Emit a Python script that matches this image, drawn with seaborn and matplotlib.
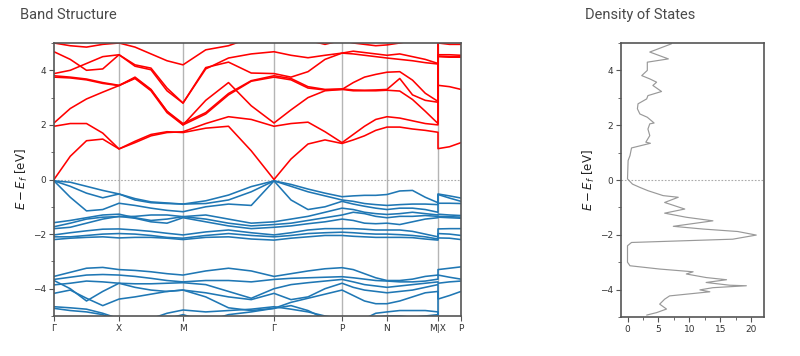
import numpy as np
import pandas as pd
import matplotlib
matplotlib.use("Agg")
import matplotlib.pyplot as plt
import seaborn as sns
from matplotlib.ticker import MultipleLocator

# ---------------- data ----------------
kpath_labels = ["Γ", "X", "M", "Γ", "P", "N", "M|X", "P"]
kpath_pos = [0.0, 0.65, 1.29, 2.20, 2.88, 3.33, 3.84, 4.07]

# conduction bands: Γ-X(5) X-M(4) M-Γ(4) Γ-P(4) P-N(4) N-M(4) | X-P(3)
cb1 = [0, 0.85, 1.42, 1.48, 1.12, 1.4, 1.65, 1.75, 1.72, 1.88, 1.95, 1.05, 0,
       0.75, 1.3, 1.45, 1.32, 1.45, 1.6, 1.8, 1.92, 1.92, 1.85, 1.8, 1.73, 1.13, 1.2, 1.35]
cb2 = [1.95, 2.05, 2.05, 1.7, 1.12, 1.35, 1.6, 1.72, 1.75, 2.05, 2.3, 2.2, 1.95,
       2.05, 2.1, 1.75, 1.35, 1.65, 1.95, 2.2, 2.3, 2.25, 2.15, 2.05, 2.0, 3.45, 3.4, 3.3]
cb3 = [2.07, 2.6, 2.95, 3.2, 3.44, 3.75, 3.3, 2.5, 2.0, 2.9, 3.55, 2.7, 2.07,
       2.55, 3.0, 3.25, 3.3, 3.55, 3.75, 3.85, 3.93, 3.95, 3.64, 3.16, 2.86, 4.57, 4.57, 4.55]
cb4 = [3.75, 3.72, 3.65, 3.52, 3.44, 3.7, 3.25, 2.45, 2.0, 2.4, 3.1, 3.6, 3.75,
       3.65, 3.35, 3.28, 3.3, 3.25, 3.25, 3.25, 3.27, 3.24, 2.93, 2.5, 2.05, 4.52, 4.5, 4.5]
cb5 = [3.88, 4.0, 4.25, 4.5, 4.57, 4.15, 4.02, 3.25, 2.8, 4.1, 4.3, 3.9, 3.88,
       3.75, 3.95, 4.4, 4.63, 4.6, 4.55, 4.5, 4.45, 4.4, 4.35, 4.28, 4.23, 5.0, 4.95, 4.95]
cb6 = [4.68, 4.4, 4.0, 4.05, 4.57, 4.2, 4.08, 3.35, 2.8, 4.05, 4.45, 4.6, 4.68,
       4.55, 4.46, 4.55, 4.63, 4.7, 4.65, 4.6, 4.55, 4.6, 4.5, 4.4, 4.25, 5.3, 5.3, 5.3]
cb7 = [5.0, 4.9, 4.85, 4.95, 5.0, 4.85, 4.6, 4.35, 4.2, 4.75, 4.9, 5.2, 5.3,
       5.2, 5.1, 4.95, 5.1, 5.0, 4.95, 4.9, 4.93, 5.0, 5.1, 5.2, 5.3, 5.3, 5.3, 5.3]
cb8 = [3.8, 3.75, 3.68, 3.55, 3.45, 3.72, 3.28, 2.5, 2.05, 2.45, 3.15, 3.62, 3.8,
       3.7, 3.4, 3.3, 3.32, 3.28, 3.27, 3.28, 3.3, 3.7, 3.1, 2.9, 2.83, 4.5, 4.48, 4.48]

# valence bands
vb1 = [-0.05, -0.1, -0.25, -0.4, -0.53, -0.75, -0.85, -0.88, -0.9, -0.78, -0.57, -0.26, -0.05,
       -0.18, -0.35, -0.5, -0.63, -0.6, -0.58, -0.58, -0.55, -0.42, -0.4, -0.65, -0.85, -0.53, -0.6, -0.68]
vb2 = [-0.05, -0.25, -0.5, -0.67, -0.53, -0.7, -0.82, -0.86, -0.9, -0.88, -0.75, -0.45, -0.05,
       -0.25, -0.45, -0.6, -0.75, -0.8, -0.88, -0.92, -0.95, -0.92, -0.9, -0.9, -0.92, -0.55, -0.68, -0.8]
vb3 = [-0.05, -0.65, -1.15, -1.1, -0.87, -0.95, -1.05, -1.13, -1.18, -1.0, -0.9, -0.95, -0.05,
       -0.75, -1.1, -1.0, -0.8, -0.9, -0.98, -1.05, -1.1, -1.05, -1.05, -1.1, -1.2, -0.87, -0.87, -0.88]
vb4 = [-1.58, -1.5, -1.4, -1.3, -1.27, -1.4, -1.5, -1.45, -1.36, -1.3, -1.45, -1.6, -1.55,
       -1.45, -1.35, -1.2, -1.05, -1.1, -1.2, -1.25, -1.28, -1.25, -1.2, -1.25, -1.3, -1.27, -1.3, -1.32]
vb5 = [-1.73, -1.6, -1.45, -1.38, -1.36, -1.35, -1.3, -1.3, -1.36, -1.45, -1.6, -1.7, -1.65,
       -1.6, -1.5, -1.4, -1.3, -1.2, -1.25, -1.35, -1.4, -1.35, -1.35, -1.32, -1.35, -1.35, -1.36, -1.38]
vb6 = [-1.8, -1.75, -1.6, -1.45, -1.35, -1.42, -1.55, -1.6, -1.4, -1.55, -1.7, -1.8, -1.75,
       -1.7, -1.62, -1.55, -1.45, -1.5, -1.6, -1.62, -1.6, -1.65, -1.55, -1.45, -1.4, -1.38, -1.4, -1.42]
vb7 = [-2.03, -1.95, -1.88, -1.82, -1.81, -1.85, -1.9, -1.97, -2.03, -1.92, -1.85, -1.95, -2.03,
       -1.95, -1.85, -1.8, -1.8, -1.8, -1.82, -1.85, -1.85, -1.85, -1.9, -2.0, -2.1, -1.81, -1.8, -1.8]
vb8 = [-2.1, -2.1, -2.05, -2.0, -1.98, -2.0, -2.05, -2.12, -2.15, -2.05, -1.98, -2.05, -2.1,
       -2.05, -1.98, -1.95, -1.93, -1.95, -1.98, -2.0, -2.0, -2.02, -2.05, -2.1, -2.18, -1.98, -2.0, -2.05]
vb9 = [-2.2, -2.15, -2.12, -2.1, -2.14, -2.12, -2.12, -2.15, -2.2, -2.12, -2.1, -2.18, -2.22,
       -2.15, -2.1, -2.05, -2.05, -2.08, -2.1, -2.12, -2.12, -2.12, -2.13, -2.18, -2.22, -2.14, -2.15, -2.2]
vb10 = [-3.55, -3.4, -3.25, -3.22, -3.3, -3.33, -3.38, -3.45, -3.5, -3.35, -3.25, -3.35, -3.55,
        -3.45, -3.35, -3.27, -3.23, -3.3, -3.45, -3.6, -3.7, -3.7, -3.65, -3.55, -3.5, -3.3, -3.25, -3.2]
vb11 = [-3.66, -3.58, -3.5, -3.48, -3.5, -3.55, -3.62, -3.7, -3.75, -3.7, -3.7, -3.75, -3.66,
        -3.62, -3.6, -3.58, -3.56, -3.6, -3.65, -3.7, -3.72, -3.75, -3.75, -3.72, -3.65, -3.5, -3.58, -3.65]
vb12 = [-3.86, -3.8, -3.72, -3.75, -3.8, -3.82, -3.82, -3.8, -3.78, -3.85, -4.1, -4.35, -4.0,
        -3.85, -3.78, -3.72, -3.66, -3.75, -3.85, -3.9, -3.95, -3.9, -3.85, -3.8, -3.75, -3.8, -3.75, -3.72]
vb13 = [-3.7, -4.0, -4.45, -4.1, -3.8, -3.95, -4.05, -4.1, -4.05, -4.15, -4.3, -4.4, -4.17,
        -4.4, -4.3, -4.0, -3.8, -3.95, -4.05, -4.1, -4.15, -4.1, -4.05, -3.95, -3.85, -4.38, -4.25, -4.1]
vb14 = [-4.17, -4.05, -4.35, -4.62, -4.38, -4.3, -4.2, -4.1, -4.05, -4.3, -4.7, -4.8, -4.72,
        -4.5, -4.35, -4.2, -4.05, -4.25, -4.45, -4.55, -4.55, -4.45, -4.3, -4.15, -4.1, -5.2, -5.2, -5.2]
vb15 = [-4.66, -4.7, -4.75, -4.9, -5.1, -5.2, -5.1, -4.9, -4.78, -4.85, -4.8, -4.75, -4.66,
        -4.75, -4.85, -5.0, -5.1, -5.2, -5.1, -4.9, -4.85, -4.8, -4.8, -4.8, -4.85, -5.3, -5.3, -5.3]
vb16 = [-4.72, -4.8, -4.85, -4.95, -5.2, -5.3, -5.3, -5.1, -4.95, -5.2, -4.95, -4.85, -4.72,
        -4.62, -4.8, -5.1, -5.3, -5.3, -5.2, -5.05, -5.0, -5.0, -5.05, -5.0, -4.95, -5.3, -5.3, -5.3]

conduction_bands = [cb1, cb2, cb3, cb4, cb5, cb6, cb7, cb8]
valence_bands = [vb1, vb2, vb3, vb4, vb5, vb6, vb7, vb8, vb9, vb10, vb11, vb12, vb13, vb14, vb15, vb16]

# density of states (energy, dos)
dos_energy = [4.97, 4.67, 4.42, 4.3, 4.0, 3.81, 3.69, 3.57, 3.45, 3.23, 3.08, 2.96, 2.78, 2.6,
              2.41, 2.29, 2.08, 2.05, 1.86, 1.62, 1.38, 1.34, 1.17, 0.89, 0.71, 0.04, -0.15,
              -0.27, -0.39, -0.57, -0.63, -0.82, -1.06, -1.21, -1.36, -1.49, -1.69, -1.79,
              -1.88, -2.01, -2.16, -2.28, -2.4, -3.0, -3.13, -3.25, -3.35, -3.43, -3.56, -3.64,
              -3.74, -3.84, -3.86, -3.93, -4.01, -4.08, -4.23, -4.35, -4.53, -4.71, -4.84, -4.93]
dos_value = [7.1, 3.6, 6.6, 3.2, 3.2, 2.3, 3.6, 4.7, 4.1, 5.5, 3.3, 3.1, 1.7, 1.6,
             2.0, 3.2, 4.3, 3.6, 3.3, 3.6, 2.96, 3.7, 0.65, 0.4, 0.1, 0.0, 0.8,
             2.0, 3.3, 5.75, 8.2, 6.0, 9.25, 6.0, 9.5, 13.8, 7.4, 12.2,
             17.8, 20.8, 17.0, 0.65, 0.0, 0.0, 0.4, 5.2, 10.6, 9.5, 12.7, 16.0,
             12.7, 16.5, 19.2, 13.8, 11.7, 13.3, 6.8, 6.0, 5.2, 6.3, 4.7, 3.1]

# ---------------- k grid along the path ----------------
k = []
for i in range(6):
    seg = np.linspace(kpath_pos[i], kpath_pos[i + 1], 5)
    k.extend(seg if i == 0 else seg[1:])
k.extend(np.linspace(kpath_pos[6], kpath_pos[7], 3))
k = np.array(k)

rows = []
for kind, bands in (("valence", valence_bands), ("conduction", conduction_bands)):
    for j, b in enumerate(bands):
        for kk, e in zip(k, b):
            rows.append((kk, e, f"{kind}{j}", kind))
df = pd.DataFrame(rows, columns=["k", "E", "band", "kind"])
dos_df = pd.DataFrame({"E": dos_energy, "DOS": dos_value})

# ---------------- figure ----------------
sns.set_style("ticks")
plt.rcParams["font.family"] = ["DejaVu Sans"]

fig = plt.figure(figsize=(8, 3.56), dpi=100)
ax1 = fig.add_axes([54 / 800, 40 / 356, 407 / 800, 273 / 356])
ax2 = fig.add_axes([621 / 800, 39 / 356, 143 / 800, 274 / 356])

for x in kpath_pos[1:-1]:
    ax1.axvline(x, color="#b5b5b5", lw=1.0, zorder=0)
ax1.axhline(0, color="#aaaaaa", lw=0.8, ls=(0, (1.5, 1.5)), zorder=0)

sns.lineplot(data=df, x="k", y="E", hue="kind", units="band", estimator=None,
             sort=False, palette={"conduction": "#ff0000", "valence": "#1f77b4"},
             lw=1.15, legend=False, ax=ax1)

ax1.set_xlim(kpath_pos[0], kpath_pos[-1])
ax1.set_ylim(-5, 5)
ax1.set_xticks(kpath_pos)
ax1.set_xticklabels(kpath_labels)
ax1.yaxis.set_major_locator(MultipleLocator(2))
ax1.yaxis.set_minor_locator(MultipleLocator(1))
ax1.set_xlabel("")
ax1.set_ylabel(r"$E - E_f$ [eV]", fontsize=8.5, color="#222222", labelpad=2)

ax2.axhline(0, color="#aaaaaa", lw=0.8, ls=(0, (1.5, 1.5)), zorder=0)
sns.lineplot(data=dos_df, x="DOS", y="E", orient="y", sort=False, estimator=None,
             color="#999999", lw=0.85, ax=ax2)
ax2.set_ylim(-5, 5)
ax2.set_xlim(-1.05, 22.05)
ax2.xaxis.set_major_locator(MultipleLocator(5))
ax2.xaxis.set_minor_locator(MultipleLocator(2.5))
ax2.yaxis.set_major_locator(MultipleLocator(2))
ax2.yaxis.set_minor_locator(MultipleLocator(1))
ax2.set_xlabel("")
ax2.set_ylabel(r"$E - E_f$ [eV]", fontsize=8.5, color="#222222", labelpad=2)

for ax in (ax1, ax2):
    for sp in ax.spines.values():
        sp.set_color("#555555")
        sp.set_linewidth(1.2)
    ax.tick_params(axis="both", which="major", labelsize=6.5, colors="#555555",
                   labelcolor="#333333", length=3.5, width=0.8, pad=2)
    ax.tick_params(axis="both", which="minor", colors="#555555", length=2, width=0.6)

fig.text(20 / 800, 1 - 15 / 356, "Band Structure", fontsize=10.5, family=["Roboto", "DejaVu Sans"],
         color="#4a4a4a", va="center", ha="left")
fig.text(585 / 800, 1 - 15 / 356, "Density of States", fontsize=10.5, family=["Roboto", "DejaVu Sans"],
         color="#4a4a4a", va="center", ha="left")

fig.savefig("out.png", dpi=100)
